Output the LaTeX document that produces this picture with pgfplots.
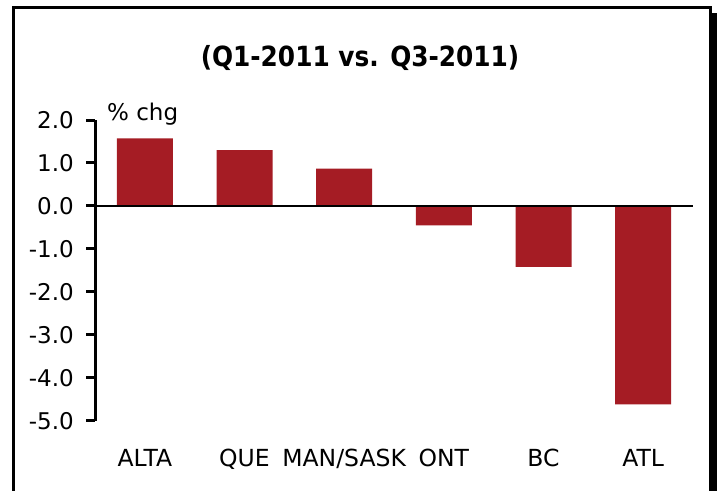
\documentclass[border=0pt]{standalone}
\usepackage{pgfplots}
\pgfplotsset{compat=1.18}
\usepackage{fontspec}
\setmainfont{DejaVu Sans}
\definecolor{barred}{RGB}{165,28,36}
\begin{document}
\begin{tikzpicture}[x=1pt,y=1pt]
\path[use as bounding box] (0,0) rectangle (719,-490);
\begin{scope}
\clip (0,0) rectangle (719,-490);
\fill[black] (712,-13) rectangle (716.5,-500);
\draw[line width=3.2pt] (13.3,-500) -- (13.3,-7.3) -- (710.2,-7.3) -- (710.2,-500);
\end{scope}
\node[anchor=base, inner sep=0pt, font=\fontsize{24.8}{30}\selectfont\bfseries] at (360,-66) {\scalebox{1}[1.12]{(Q1-2011 vs. Q3-2011)}};
\begin{axis}[at={(95pt,-420.7pt)}, anchor=south west, scale only axis,
  width=598pt, height=300.7pt,
  xmin=-0.5, xmax=5.5, ymin=-5, ymax=2,
  axis y line*=left, axis x line*=bottom,
  x axis line style={draw=none},
  y axis line style={-, line width=3pt, black},
  xtick={0,...,5}, xticklabels={ALTA,QUE,MAN/SASK,ONT,BC,ATL},
  xtick style={draw=none},
  ytick={-5,...,2},
  yticklabels={-5.0,-4.0,-3.0,-2.0,-1.0,0.0,1.0,2.0},
  ytick style={line width=3pt, black},
  tick align=outside, major tick length=9pt,
  tick label style={font=\fontsize{23.5}{28}\selectfont},
  yticklabel style={anchor=east, inner sep=0pt, xshift=-12pt, font=\fontsize{23}{28}\selectfont},
  xticklabel style={anchor=base, inner sep=0pt, yshift=-36.3pt},
  clip=false,
]
\addplot[ybar, bar width=56pt, fill=barred, draw=none] coordinates {(0,1.57)(1,1.30)(2,0.87)(3,-0.45)(4,-1.42)(5,-4.62)};
\addplot[black, line width=2.5pt, forget plot] coordinates {(-0.5,0) (5.5,0)};
\node[anchor=base west, inner sep=0pt, font=\fontsize{23}{27}\selectfont] at (axis cs:-0.38,1.98) {\% chg};
\end{axis}
\end{tikzpicture}
\end{document}
